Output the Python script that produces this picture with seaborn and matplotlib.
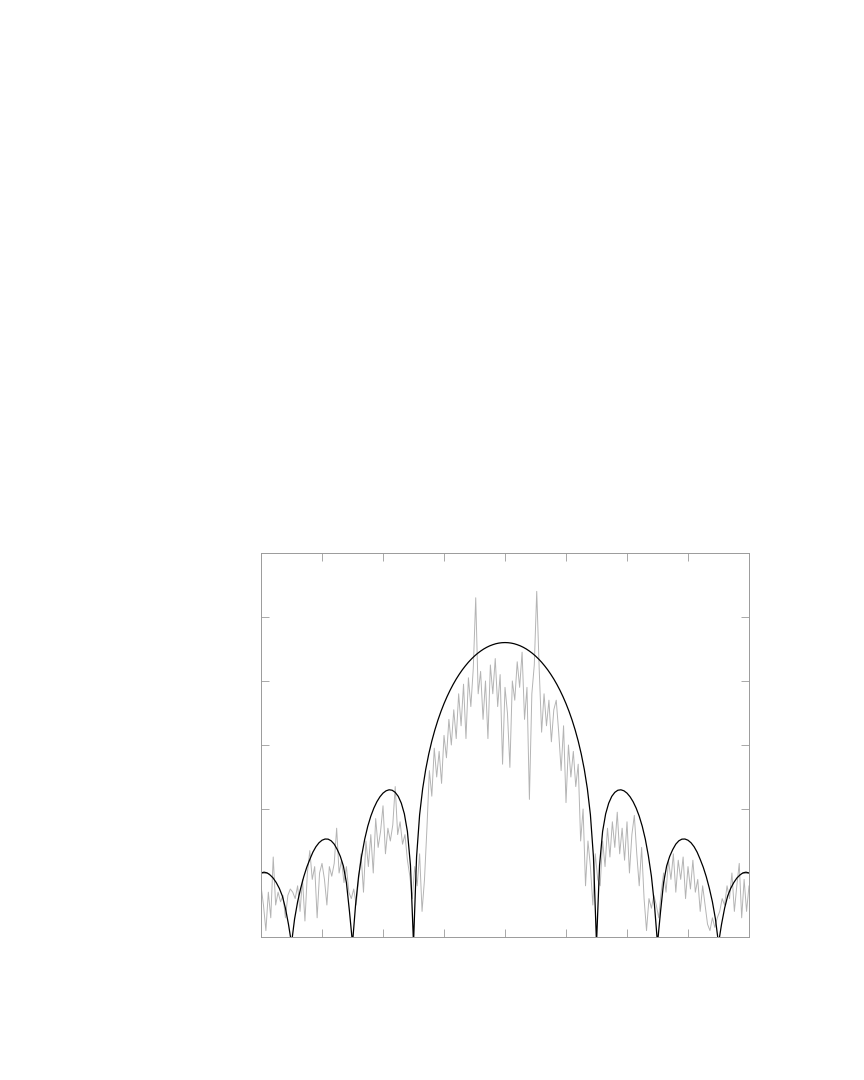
import numpy as np
import matplotlib
matplotlib.use("Agg")
import matplotlib.pyplot as plt
import seaborn as sns

# theoretical pattern (dB), u = -4 .. 4 step 0.05
pattern_u = np.round(np.arange(-4.0, 4.0001, 0.05), 3)
pattern_db = [
    -49.99, -49.87, -49.98, -50.32, -50.80, -51.50, -52.40, -53.60, -55.50, -58.00,
    -61.0, -57.20, -54.50, -52.40, -50.60, -49.10, -47.87, -46.75, -45.90, -45.28,
    -44.88, -44.69, -44.71, -44.97, -45.49, -46.33, -47.40, -48.90, -51.50, -56.00,
    -61.0, -55.00, -50.50, -47.30, -44.71, -42.70, -41.12, -39.86, -38.86, -38.09,
    -37.52, -37.16, -37.00, -37.07, -37.40, -38.03, -39.09, -40.76, -43.51, -48.81,
    -61.0, -47.51, -40.90, -36.83, -33.82, -31.41, -29.39, -27.65, -26.12, -24.76,
    -23.54, -22.44, -21.44, -20.53, -19.70, -18.95, -18.26, -17.64, -17.07, -16.56,
    -16.10, -15.69, -15.33, -15.01, -14.74, -14.51, -14.33, -14.18, -14.08, -14.02,
    -14.00,
    -14.02, -14.08, -14.18, -14.33, -14.51, -14.74, -15.01, -15.33, -15.69, -16.10,
    -16.56, -17.07, -17.64, -18.26, -18.95, -19.70, -20.53, -21.44, -22.44, -23.54,
    -24.76, -26.12, -27.65, -29.39, -31.41, -33.82, -36.83, -40.90, -47.51, -61.0,
    -48.81, -43.51, -40.76, -39.09, -38.03, -37.40, -37.07, -37.00, -37.16, -37.52,
    -38.09, -38.86, -39.86, -41.12, -42.70, -44.71, -47.30, -50.50, -55.00, -61.0,
    -56.00, -51.50, -48.90, -47.40, -46.33, -45.49, -44.97, -44.71, -44.69, -44.88,
    -45.28, -45.90, -46.75, -47.87, -49.10, -50.60, -52.40, -54.50, -57.20, -61.0,
    -58.00, -55.50, -53.60, -52.40, -51.50, -50.80, -50.32, -49.98, -49.87, -49.99,
]

# measured pattern (dB), u = -4 .. 4 step 0.04
measured_u = np.round(np.arange(-4.0, 4.0001, 0.04), 3)
measured_db = [
    -52, -55, -59, -53, -57, -47.5, -55, -53, -54.5, -53.5,
    -57, -53.5, -52.5, -53, -54, -52, -56, -51, -57.5, -50,
    -46.5, -51, -49, -57, -50, -48.5, -51, -55, -49, -50.5,
    -48.5, -43, -50, -48, -51.5, -49, -53, -54, -52.5, -55,
    -51, -47, -53, -45, -49, -44, -50, -41.5, -46, -43.5,
    -39.5, -47, -43, -45, -42.5, -36.5, -44, -42, -45.5, -44,
    -48, -50.5, -54, -49, -52, -47, -56, -51, -43, -34,
    -38, -30.5, -35, -31, -36, -28.5, -32, -26, -30, -24.5,
    -29, -22, -27, -20.5, -29, -19.5, -24, -18, -7, -22,
    -18.5, -26, -20, -29, -17.5, -22, -16.5, -24, -19, -33,
    -21, -25, -33.5, -20, -23, -17, -21, -15.5, -26, -21,
    -38.5, -22, -17.5, -6, -18, -28, -22, -27, -23, -29.5,
    -24.5, -23, -28, -34, -27, -39, -30, -35, -31, -36.5,
    -33, -45, -40, -52, -45, -49, -55, -47, -51, -52,
    -45, -49, -43, -47.5, -42, -46, -40.5, -47, -43, -48,
    -42, -50, -44, -41, -47, -52, -46, -54, -59, -54,
    -55.5, -53.5, -55, -57, -53, -50, -53, -48, -51, -47,
    -53, -48, -51, -47.5, -54, -49, -52.5, -48, -53, -51,
    -56, -52, -55, -58, -59, -57, -58.5, -57, -56, -54,
    -55, -52, -54, -50, -56, -52, -48.5, -57, -51, -56,
    -52,
]

sns.set_style("white")

fig = plt.figure(figsize=(8.64, 10.8), dpi=100)
ax = fig.add_axes([0.3021, 0.1324, 0.5648, 0.3556])

sns.lineplot(x=measured_u, y=measured_db, ax=ax, color="#b4b4b4", linewidth=0.7)
sns.lineplot(x=pattern_u, y=pattern_db, ax=ax, color="black", linewidth=0.9)

ax.set_xlim(-4, 4)
ax.set_ylim(-60, 0)
ax.set_xticks(np.arange(-3, 4, 1))
ax.set_yticks(np.arange(-50, 0, 10))
ax.tick_params(direction="in", length=5.5, width=0.6, color="#9a9a9a",
               top=True, right=True, bottom=True, left=True,
               labelbottom=False, labelleft=False)
ax.set_xlabel("")
ax.set_ylabel("")
for s in ax.spines.values():
    s.set_color("#9a9a9a")
    s.set_linewidth(0.7)

fig.savefig("out.png", dpi=100, facecolor="white")
